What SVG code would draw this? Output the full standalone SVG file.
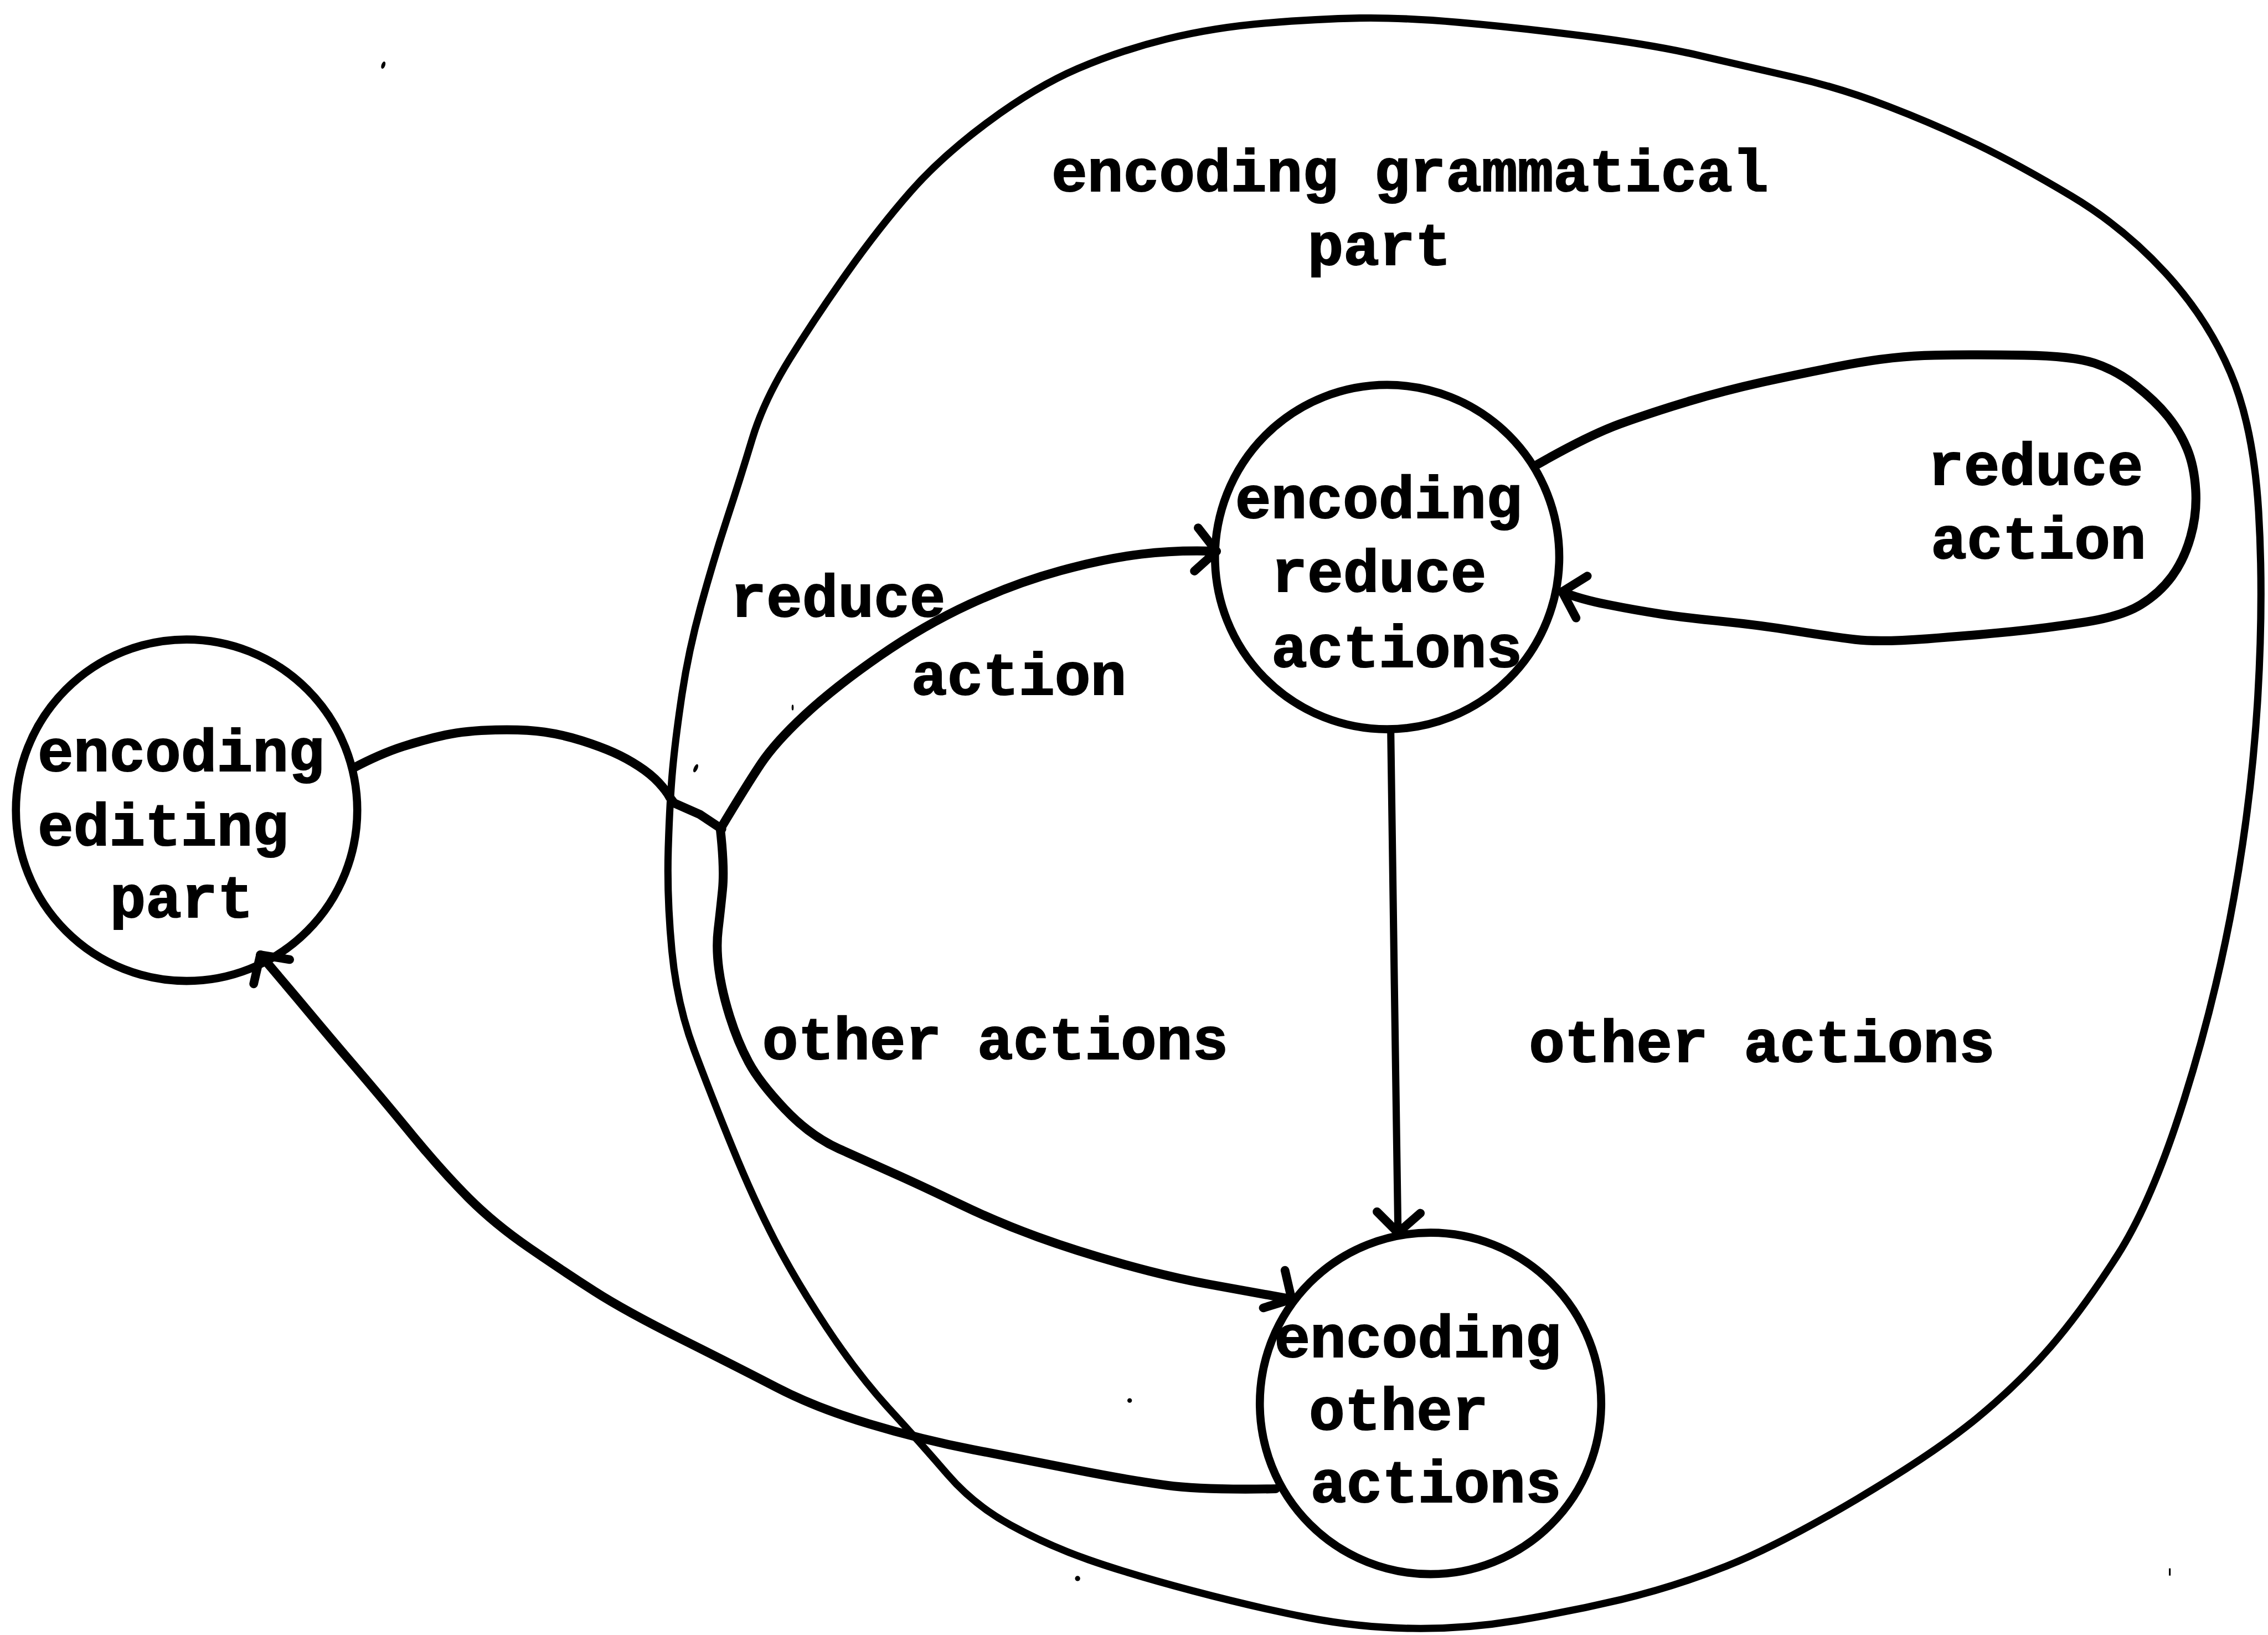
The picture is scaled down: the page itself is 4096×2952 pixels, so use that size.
<svg xmlns="http://www.w3.org/2000/svg" xmlns:xlink="http://www.w3.org/1999/xlink" width="4096" height="2952" viewBox="0 0 4096 2952">
  <style>
    .blob { fill: none; stroke: #000; stroke-width: 5; stroke-linejoin: round; stroke-linecap: round; }
    .node { fill: none; stroke: #000; stroke-width: 5.6; }
    .edge { fill: none; stroke: #000; stroke-width: 6.2; stroke-linejoin: round; stroke-linecap: round; }
    .thin { stroke-width: 5; }
    .head { fill: none; stroke: #000; stroke-width: 6; stroke-linejoin: round; stroke-linecap: round; }
    .lbl { font-family: "Liberation Mono", "DejaVu Sans Mono", monospace; font-weight: bold; font-size: 41.3px; fill: #000; stroke: #000; stroke-width: 0.8; }
    .speck { fill: #000; }
  </style>
  <defs>
    <!-- open V arrowhead, tip at origin, pointing along +x -->
    <path id="vhead" class="head" d="M-14,-15 L0,0 L-14,15"/>
  </defs>
  <rect width="4096" height="2952" fill="#fff"/>
  <g transform="scale(2.61224)">
    <!-- region outline: encoding grammatical part -->
    <g id="grammatical-part">
      <path class="blob" d="M940,12.5 Q969,12 1009,15.5 Q1049,19 1096,25 Q1143,31 1175.5,38.5 Q1208,46 1240.5,53.5 Q1273,61 1305.5,73.5 Q1338,86 1367,100 Q1396,114 1432,135.5 Q1468,157 1497,188.5 Q1526,220 1542,257.5 Q1558,295 1561.5,353.5 Q1565,412 1561,481 Q1557,550 1544.5,620 Q1532,690 1510,760 Q1488,830 1464,867.5 Q1440,905 1418,930.5 Q1396,956 1367,980 Q1338,1004 1284,1036 Q1230,1068 1193.5,1082.5 Q1157,1097 1121,1105.5 Q1085,1114 1049,1120 Q1013,1126 976.5,1125.5 Q940,1125 904,1118 Q868,1111 824.5,1099.5 Q781,1088 752.5,1078 Q724,1068 698.5,1054 Q673,1040 655,1019 Q637,998 615,974 Q593,950 571.5,917.5 Q550,885 535.5,857 Q521,829 506.5,793.5 Q492,758 480,726 Q468,694 464.5,657 Q461,620 462,587 Q463,554 465,532 Q467,510 471.5,480 Q476,450 484.5,419 Q493,388 502.5,359 Q512,330 520,303.5 Q528,277 546,248 Q564,219 586,188 Q608,157 629.5,132.5 Q651,108 683.5,84 Q716,60 745,47.5 Q774,35 806.5,27 Q839,19 875,16 Q911,13 940,12.5 Z"/>
      <text class="lbl" x="727" y="132">encoding grammatical</text>
      <text class="lbl" x="904" y="183">part</text>
    </g>

    <g id="editing-part">
      <circle class="node" cx="129" cy="560" r="118"/>
      <text class="lbl" x="26" y="533">encoding</text>
      <text class="lbl" x="26" y="584">editing</text>
      <text class="lbl" x="76" y="634">part</text>
    </g>

    <g id="reduce-actions">
      <circle class="node" cx="959" cy="385" r="119"/>
      <text class="lbl" x="854" y="358">encoding</text>
      <text class="lbl" x="879" y="409">reduce</text>
      <text class="lbl" x="879" y="461">actions</text>
    </g>

    <g id="other-actions">
      <circle class="node" cx="989" cy="970" r="118"/>
      <text class="lbl" x="881" y="938">encoding</text>
      <text class="lbl" x="905" y="988">other</text>
      <text class="lbl" x="906" y="1038">actions</text>
    </g>

    <g id="connectors">
      <!-- editing part out to the branch point -->
      <path class="edge" d="M244,531 Q263,521 278.5,516 Q294,511 308,508 Q322,505 342.5,504.5 Q363,504 376.5,506 Q390,508 402.5,512 Q415,516 424,520 Q433,524 441.5,529.5 Q450,535 455.5,541 Q461,547 463,551 L466,555 L484,563 L499,573"/>
      <!-- branch: reduce action -->
      <path class="edge" d="M498,573 Q516,543 526,528 Q536,513 556.5,494 Q577,475 608,453.5 Q639,432 670.5,417.5 Q702,403 733,394.5 Q764,386 789,383 Q814,380 841,381"/>
      <use xlink:href="#vhead" transform="translate(841,381) rotate(5)"/>
      <!-- branch: other actions -->
      <path class="edge" d="M498,573 Q501,600 499.5,615 Q498,630 496.5,642.5 Q495,655 497,670 Q499,685 504.5,702.5 Q510,720 517.5,734 Q525,748 542.5,766.5 Q560,785 580,794 Q600,803 618,811 Q636,819 663,832 Q690,845 717.5,855 Q745,865 777.5,874 Q810,883 835,887.5 Q860,892 893,898"/>
      <use xlink:href="#vhead" transform="translate(893,898) rotate(30)"/>
      <!-- reduce actions to other actions -->
      <path class="edge thin" d="M961.5,505 L964,680 L966.5,850"/>
      <use xlink:href="#vhead" transform="translate(966.5,852) rotate(92)"/>
      <!-- self loop on reduce actions -->
      <path class="edge" d="M1063,321 Q1098,301 1120,293 Q1142,285 1167,277.5 Q1192,270 1219,264 Q1246,258 1277.5,252 Q1309,246 1337.5,245.5 Q1366,245 1399.5,245.5 Q1433,246 1448,251 Q1463,256 1476.5,266.5 Q1490,277 1498.5,287.5 Q1507,298 1512,310 Q1517,322 1518,338.5 Q1519,355 1514.5,371 Q1510,387 1501.5,398.5 Q1493,410 1480,418 Q1467,426 1441.5,430 Q1416,434 1391,436.5 Q1366,439 1332.5,441.5 Q1299,444 1282.5,442 Q1266,440 1241,436 Q1216,432 1191,429.5 Q1166,427 1149,424.5 Q1132,422 1112,418 Q1092,414 1080,409"/>
      <use xlink:href="#vhead" transform="translate(1080,409) rotate(195)"/>
      <!-- other actions back to editing part -->
      <path class="edge" d="M882,1029 Q832,1030 806,1026.5 Q780,1023 744.5,1016 Q709,1009 673,1002 Q637,995 600.5,984 Q564,973 537,959 Q510,945 471,925.5 Q432,906 411,892.5 Q390,879 366,862.5 Q342,846 324,828 Q306,810 285,784.5 Q264,759 246,738 Q228,717 213,699 Q198,681 180,660"/>
      <use xlink:href="#vhead" transform="translate(180,660) rotate(236)"/>
    </g>

    <g id="edge-labels">
      <text class="lbl" x="505" y="426">reduce</text>
      <text class="lbl" x="630" y="480">action</text>
      <text class="lbl" x="527" y="732">other actions</text>
      <text class="lbl" x="1057" y="734">other actions</text>
      <text class="lbl" x="1333" y="335">reduce</text>
      <text class="lbl" x="1335" y="386">action</text>
    </g>

    <!-- stray ink marks -->
    <g id="specks">
      <ellipse class="speck" cx="265" cy="45" rx="1.3" ry="2.6" transform="rotate(20 265 45)"/>
      <ellipse class="speck" cx="481" cy="531" rx="1.3" ry="3" transform="rotate(25 481 531)"/>
      <ellipse class="speck" cx="548" cy="489" rx="0.7" ry="2"/>
      <circle class="speck" cx="781" cy="968" r="1.6"/>
      <circle class="speck" cx="745" cy="1091" r="1.8"/>
      <rect class="speck" x="1499.5" y="1084" width="1.2" height="5"/>
    </g>
  </g>
</svg>
